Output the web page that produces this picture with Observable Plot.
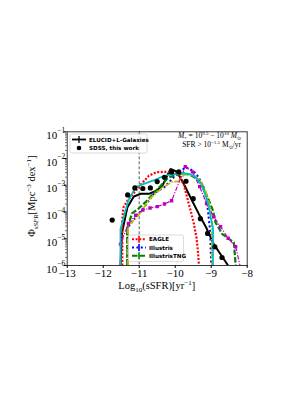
<!DOCTYPE html>
<html><head><meta charset="utf-8">
<script src="https://cdn.jsdelivr.net/npm/d3@7"></script>
<script src="https://cdn.jsdelivr.net/npm/@observablehq/plot@0.6"></script>
<style>body{margin:0;background:#fff}svg{display:block}</style>
</head><body><div id="chart"></div>
<script>
// ---- data (x = log10 sSFR [yr^-1], values = log10 Phi) ----
const xTicks = [-13, -12, -11, -10, -9, -8];
const yTickExps = [-1, -2, -3, -4, -5, -6];
const minorSubs = [2,3,4,5,6,7,8,9];

const sdssX      = [-11.75, -11.32, -11.12, -10.9, -10.69, -10.5, -10.3, -10.1, -9.9, -9.7, -9.5, -9.3, -9.1, -8.9, -8.7];
const sdssLogPhi = [-4.3, -3.36, -3.1, -3.12, -3.1, -2.86, -2.7, -2.5, -2.5, -2.85, -3.5, -4.25, -4.8, -5.3, -5.7];

const elucidX      = [-11.52, -11.48, -11.33, -11.15, -10.96, -10.73, -10.52, -10.35, -10.13, -9.94, -9.76, -9.53, -9.34, -9.14, -8.93, -8.74, -8.53];
const elucidLogPhi = [-6.0, -4.8, -3.83, -3.42, -3.32, -3.32, -3.2, -3.0, -2.39, -2.5, -2.95, -3.58, -4.08, -4.58, -5.2, -5.58, -6.0];

const eagleX      = [-11.47, -11.47, -11.44, -11.33, -10.96, -10.73, -10.52, -10.31, -10.04, -9.9, -9.76, -9.67, -9.57, -9.48, -9.41, -9.37, -9.34];
const eagleLogPhi = [-6.0, -4.3, -3.83, -3.58, -2.98, -2.64, -2.51, -2.5, -2.51, -2.64, -2.98, -3.45, -3.95, -4.45, -4.95, -5.45, -6.0];

const illustrisX      = [-11.33, -11.33, -11.1, -10.9, -10.6, -10.3, -10.1, -9.9, -9.7, -9.5, -9.35, -9.2, -9.12, -9.07, -9.03, -9.0];
const illustrisLogPhi = [-6.0, -4.6, -4.2, -3.9, -3.32, -3.07, -2.78, -2.5, -2.33, -2.45, -2.7, -3.1, -3.6, -4.2, -4.7, -6.0];

const tngX      = [-11.33, -11.33, -11.2, -11.0, -10.8, -10.6, -10.4, -10.2, -10.0, -9.8, -9.6, -9.4, -9.25, -9.1, -8.95, -8.88, -8.69, -8.56, -8.37, -8.32];
const tngLogPhi = [-6.0, -4.6, -4.05, -3.85, -3.6, -3.3, -3.02, -2.72, -2.62, -2.55, -2.6, -2.75, -3.0, -3.45, -3.95, -4.39, -4.83, -4.95, -5.14, -6.0];

const cyanX      = [-11.52, -11.52, -11.31, -11.1, -10.87, -10.6, -10.4, -10.2, -9.97, -9.8, -9.6, -9.42, -9.28, -9.17, -9.07, -9.0, -8.95, -8.95];
const cyanLogPhi = [-6.0, -4.64, -3.6, -3.07, -2.95, -2.82, -2.7, -2.62, -2.57, -2.55, -2.58, -2.7, -2.95, -3.33, -3.76, -4.3, -4.6, -6.0];

const yellowX      = [-11.31, -11.31, -11.1, -10.9, -10.7, -10.5, -10.3, -10.1, -9.9, -9.75, -9.55, -9.35, -9.2, -9.1, -9.02, -8.98, -8.98];
const yellowLogPhi = [-6.0, -4.5, -4.25, -3.9, -3.5, -3.25, -3.05, -2.88, -2.85, -2.6, -2.6, -2.75, -3.05, -3.45, -3.9, -4.3, -6.0];

const magentaX      = [-11.52, -11.52, -11.3, -11.1, -10.9, -10.7, -10.5, -10.3, -10.1, -9.72, -9.52, -9.32, -9.13, -8.93, -8.74, -8.53, -8.32, -8.2];
const magentaLogPhi = [-6.0, -5.2, -4.43, -4.12, -3.93, -3.85, -3.8, -3.7, -3.58, -2.3, -2.5, -3.05, -3.68, -4.18, -4.55, -4.98, -5.3, -6.0];
const magentaSquareIdx = [1,2,3,4,5,6,7,8,9,10,11,12,13,14,15,16];

const rows = (xs, ls) => xs.map((x, i) => ({x, y: Math.pow(10, ls[i])}));

const serif = "Liberation Serif";
const sans = "DejaVu Sans";

const yMajor = yTickExps.map(e => Math.pow(10, e));
const yMinor = [];
for (const e of yTickExps) if (e < -1) for (const s of minorSubs) yMinor.push(s * Math.pow(10, e));

const magRows = rows(magentaX, magentaLogPhi);
const dashed = (extra) => Object.assign({x: "x", y: "y", strokeLinecap: "butt", strokeLinejoin: "miter", clip: true}, extra);

const plot = Plot.plot({
  width: 306, height: 396,
  marginLeft: 66.7, marginRight: 59.3, marginTop: 131.3, marginBottom: 131,
  style: {background: "#fff", fontFamily: serif, fontSize: "11px", color: "#000"},
  x: {domain: [-13, -8]},
  y: {type: "log", domain: [1e-6, 1e-1]},
  marks: [
    Plot.ruleX([-11], {stroke: "#444", strokeWidth: 0.9, strokeDasharray: "3,2"}),
    Plot.line(rows(elucidX, elucidLogPhi), dashed({stroke: "#000", strokeWidth: 2})),
    Plot.line(rows(eagleX, eagleLogPhi), dashed({stroke: "#ff0000", strokeWidth: 2.2, strokeDasharray: "2,1.6"})),
    Plot.line(rows(illustrisX, illustrisLogPhi), dashed({stroke: "#0000ff", strokeWidth: 2, strokeDasharray: "2,2.4"})),
    Plot.line(rows(tngX, tngLogPhi), dashed({stroke: "#008000", strokeWidth: 2.2, strokeDasharray: "5.5,2"})),
    Plot.line(rows(yellowX, yellowLogPhi), dashed({stroke: "#bfbf00", strokeWidth: 1.8, strokeDasharray: "6,1.5,1.5,1.5"})),
    Plot.line(magRows, dashed({stroke: "#bf00bf", strokeWidth: 1.2, strokeDasharray: "4.5,1.5,1.2,1.5"})),
    Plot.dot(magentaSquareIdx.map(i => magRows[i]), {x: "x", y: "y", symbol: "square", r: 1.9, fill: "#bf00bf", clip: true}),
    Plot.line(rows(cyanX, cyanLogPhi), dashed({stroke: "#00bfbf", strokeWidth: 1.8})),
    Plot.dot(rows(sdssX, sdssLogPhi), {x: "x", y: "y", r: 2.6, fill: "#000", clip: true}),
    Plot.frame({stroke: "#222", strokeWidth: 0.9}),
    Plot.axisX({ticks: xTicks, tickSize: 3, tickPadding: 1, tickFormat: d => (d < 0 ? "\u2212" : "") + Math.abs(d), fontSize: 11, fontFamily: serif, label: null}),
    Plot.axisY({ticks: yMajor, tickSize: 3, tickFormat: () => "", label: null}),
    Plot.axisY(yMinor, {tickSize: 1.6, tickFormat: () => "", label: null, strokeWidth: 0.6}),
    Plot.text(yTickExps, {x: -13, y: d => Math.pow(10, d), text: () => "10", textAnchor: "end", dx: -10, dy: 3.5, fontSize: 11, fontFamily: serif}),
    Plot.text(yTickExps, {x: -13, y: d => Math.pow(10, d), text: d => "\u2212" + Math.abs(d), textAnchor: "start", dx: -10, dy: -1.5, fontSize: 7.5, fontFamily: serif})
  ]
});

const svg = d3.select(plot);
const xs = plot.scale("x"), ys = plot.scale("y");
const fx0 = xs.apply(-13), fx1 = xs.apply(-8), fy0 = ys.apply(1e-1), fy1 = ys.apply(1e-6);

// axis labels
const xl = svg.append("text").attr("x", (fx0 + fx1) / 2).attr("y", 289).attr("text-anchor", "middle")
  .attr("font-family", serif).attr("font-size", 10.5);
xl.append("tspan").text("Log");
xl.append("tspan").attr("font-size", 7).attr("dy", 2.5).text("10");
xl.append("tspan").attr("dy", -2.5).text("(sSFR)[yr");
xl.append("tspan").attr("font-size", 7).attr("dy", -4).text("\u22121");
xl.append("tspan").attr("dy", 4).text("]");

const yl = svg.append("text").attr("transform", `translate(35,${(fy0 + fy1) / 2 - 2}) rotate(-90)`).attr("text-anchor", "middle")
  .attr("font-family", serif).attr("font-size", 10.5);
yl.append("tspan").text("\u03A6");
yl.append("tspan").attr("font-size", 7).attr("font-style", "italic").attr("dy", 2.5).text("sSFR");
yl.append("tspan").attr("dy", -2.5).text("[Mpc");
yl.append("tspan").attr("font-size", 7).attr("dy", -4).text("\u22123");
yl.append("tspan").attr("dy", 4).text(" dex");
yl.append("tspan").attr("font-size", 7).attr("dy", -4).text("\u22121");
yl.append("tspan").attr("dy", 4).text("]");

// annotation
const a1 = svg.append("text").attr("x", 241).attr("y", 138).attr("text-anchor", "end").attr("font-family", serif).attr("font-size", 7.5);
a1.append("tspan").attr("font-style", "italic").text("M");
a1.append("tspan").attr("font-size", 5).attr("dy", 1.5).text("*");
a1.append("tspan").attr("dy", -1.5).text(" = 10");
a1.append("tspan").attr("font-size", 5).attr("dy", -3).text("9.5");
a1.append("tspan").attr("dy", 3).text(" \u2212 10");
a1.append("tspan").attr("font-size", 5).attr("dy", -3).text("10");
a1.append("tspan").attr("dy", 3).attr("font-style", "italic").text(" M");
a1.append("tspan").attr("font-size", 5).attr("dy", 1.5).text("\u2299");
const a2 = svg.append("text").attr("x", 241).attr("y", 147).attr("text-anchor", "end").attr("font-family", serif).attr("font-size", 7.5);
a2.append("tspan").text("SFR > 10");
a2.append("tspan").attr("font-size", 5).attr("dy", -3).text("\u22121.5");
a2.append("tspan").attr("dy", 3).text(" M");
a2.append("tspan").attr("font-size", 5).attr("dy", 1.5).text("\u2299");
a2.append("tspan").attr("dy", -1.5).text("/yr");

// legend 1
const lg1 = svg.append("g").attr("text-anchor", "start");
lg1.append("rect").attr("x", 70).attr("y", 134).attr("width", 77).attr("height", 19).attr("rx", 1.5)
  .attr("fill", "#fff").attr("fill-opacity", 0.85).attr("stroke", "#ccc").attr("stroke-width", 0.7);
lg1.append("line").attr("x1", 72).attr("x2", 86).attr("y1", 139.5).attr("y2", 139.5).attr("stroke", "#000").attr("stroke-width", 1.8);
lg1.append("line").attr("x1", 79).attr("x2", 79).attr("y1", 136).attr("y2", 143).attr("stroke", "#000").attr("stroke-width", 1.3);
lg1.append("circle").attr("cx", 79).attr("cy", 148).attr("r", 2.3).attr("fill", "#000");
lg1.append("text").attr("x", 89).attr("y", 141.5).attr("text-anchor", "start").attr("font-family", sans).attr("font-size", 5.6).attr("font-weight", "bold").text("ELUCID+L-Galaxies");
lg1.append("text").attr("x", 89).attr("y", 150).attr("text-anchor", "start").attr("font-family", sans).attr("font-size", 5.6).attr("font-weight", "bold").text("SDSS, this work");

// legend 2
const lg2 = svg.append("g").attr("text-anchor", "start");
lg2.append("rect").attr("x", 128.5).attr("y", 235).attr("width", 55).attr("height", 26.5).attr("rx", 1.5)
  .attr("fill", "#fff").attr("fill-opacity", 0.85).attr("stroke", "#ccc").attr("stroke-width", 0.7);
const ent = [
  {name: "EAGLE", color: "#ff0000", dash: "2,1.6", y: 239.2},
  {name: "Illustris", color: "#0000ff", dash: "2,2.4", y: 247.5},
  {name: "IllustrisTNG", color: "#008000", dash: "5.5,2", y: 255.8}
];
for (const e of ent) {
  lg2.append("line").attr("x1", 132).attr("x2", 146).attr("y1", e.y).attr("y2", e.y).attr("stroke", e.color).attr("stroke-width", 2).attr("stroke-dasharray", e.dash);
  lg2.append("line").attr("x1", 139).attr("x2", 139).attr("y1", e.y - 3.5).attr("y2", e.y + 3.5).attr("stroke", e.color).attr("stroke-width", 1.6);
  lg2.append("text").attr("x", 149).attr("y", e.y + 2).attr("text-anchor", "start").attr("font-family", sans).attr("font-size", 5.6).attr("font-weight", "bold").text(e.name);
}

document.getElementById("chart").appendChild(plot);
</script>
</body></html>
